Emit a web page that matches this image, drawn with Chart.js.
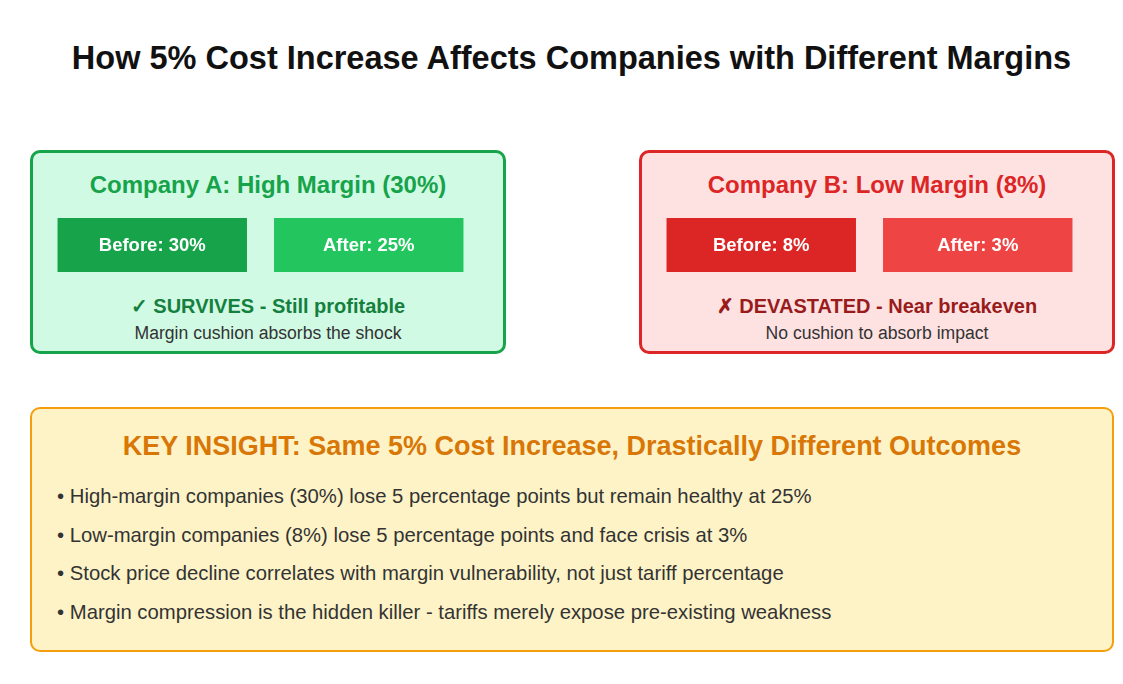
<!DOCTYPE html>
<html>
<head>
<meta charset="utf-8">
<title>Margin shock</title>
<script src="https://cdn.jsdelivr.net/npm/chart.js@4.4.1/dist/chart.umd.min.js"></script>
<style>
  html, body { margin: 0; padding: 0; background: #fff; }
  body { width: 1123px; height: 684px; position: relative; overflow: hidden;
         font-family: "Liberation Sans", Arial, Helvetica, sans-serif; color: #333; }
  .title { position: absolute; left: 0; width: 1143px; top: 38px; text-align: center;
           font-size: 32.5px; line-height: 40px; font-weight: bold; color: #111; }
  .panel { position: absolute; top: 150px; width: 470px; height: 198px;
           border: 3px solid; border-radius: 10px; }
  .panel h2 { position: absolute; left: 0; right: 0; top: 17px; margin: 0; text-align: center;
              font-size: 24px; line-height: 30px; font-weight: bold; }
  .panel .verdict { position: absolute; left: 0; right: 0; top: 140px; text-align: center;
                    font-size: 20px; line-height: 26px; font-weight: bold; }
  .panel .note { position: absolute; left: 0; right: 0; top: 169px; text-align: center;
                 font-size: 17.6px; line-height: 22px; color: #333; }
  .panel canvas { position: absolute; top: 65px; left: 11px; }
  .insight { position: absolute; left: 30px; top: 407px; width: 1080px; height: 241px;
             background: #fef3c7; border: 2px solid #f59e0b; border-radius: 10px; }
  .insight h2 { margin: 0; position: absolute; left: 0; right: 0; top: 20px; text-align: center;
                font-size: 27px; line-height: 34px; font-weight: bold; color: #d97706; }
  .insight ul { list-style: none; margin: 0; padding: 0; position: absolute; left: 25px; top: 68px; }
  .insight li { font-size: 20.3px; height: 38.5px; line-height: 38.5px; color: #333; white-space: nowrap; }
</style>
</head>
<body>
<div class="title" id="title"></div>
<div id="panels"></div>
<div class="insight">
  <h2 id="insightTitle"></h2>
  <ul id="bullets"></ul>
</div>
<script>
const CHART_TITLE = 'How 5% Cost Increase Affects Companies with Different Margins';

const companies   = ['Company A: High Margin (30%)', 'Company B: Low Margin (8%)'];
const stages      = ['Before', 'After'];
const marginBefore = [30, 8];
const marginAfter  = [25, 3];
const verdicts    = ['\u2713 SURVIVES - Still profitable', '\u2717 DEVASTATED - Near breakeven'];
const notes       = ['Margin cushion absorbs the shock', 'No cushion to absorb impact'];

const INSIGHT_TITLE = 'KEY INSIGHT: Same 5% Cost Increase, Drastically Different Outcomes';
const insights = [
    'High-margin companies (30%) lose 5 percentage points but remain healthy at 25%',
    'Low-margin companies (8%) lose 5 percentage points and face crisis at 3%',
    'Stock price decline correlates with margin vulnerability, not just tariff percentage',
    'Margin compression is the hidden killer - tariffs merely expose pre-existing weakness',
];

// each stage is a full-height tile, the value goes in the label
const TILE = [0, 1];

const THEMES = [
    { left: 30,  fill: '#d1fae5', border: '#16a34a', title: '#16a34a', verdict: '#15803d',
      tiles: ['#16a34a', '#22c55e'] },
    { left: 639, fill: '#fee2e2', border: '#dc2626', title: '#dc2626', verdict: '#991b1b',
      tiles: ['#dc2626', '#ef4444'] },
];

document.getElementById('title').textContent = CHART_TITLE;
document.getElementById('insightTitle').textContent = INSIGHT_TITLE;

const ul = document.getElementById('bullets');
insights.forEach(t => {
    const li = document.createElement('li');
    li.textContent = '\u2022 ' + t;
    ul.appendChild(li);
});

const tileLabels = {
    id: 'tileLabels',
    afterDatasetsDraw(chart) {
        const { ctx } = chart;
        const vals = chart.options.plugins.tileLabels.values;
        ctx.save();
        ctx.fillStyle = '#fff';
        ctx.font = 'bold 18.5px "Liberation Sans", Arial, sans-serif';
        ctx.textAlign = 'center';
        ctx.textBaseline = 'middle';
        chart.getDatasetMeta(0).data.forEach((bar, i) => {
            ctx.fillText(`${chart.data.labels[i]}: ${vals[i]}%`, bar.x, (bar.y + bar.base) / 2 + 1);
        });
        ctx.restore();
    }
};

const panels = document.getElementById('panels');
companies.forEach((name, c) => {
    const th = THEMES[c];
    const div = document.createElement('div');
    div.className = 'panel';
    div.style.left = th.left + 'px';
    div.style.background = th.fill;
    div.style.borderColor = th.border;
    div.innerHTML = `<h2 style="color:${th.title}">${name}</h2>
        <canvas width="433" height="54"></canvas>
        <div class="verdict" style="color:${th.verdict}">${verdicts[c]}</div>
        <div class="note">${notes[c]}</div>`;
    panels.appendChild(div);

    new Chart(div.querySelector('canvas').getContext('2d'), {
        type: 'bar',
        data: {
            labels: stages,
            datasets: [{
                data: [TILE, TILE],
                backgroundColor: th.tiles,
                borderWidth: 0,
                barPercentage: 0.875,
                categoryPercentage: 1,
            }]
        },
        plugins: [tileLabels],
        options: {
            responsive: false,
            animation: false,
            layout: { padding: 0 },
            plugins: {
                legend: { display: false },
                tooltip: { enabled: false },
                tileLabels: { values: [marginBefore[c], marginAfter[c]] },
            },
            scales: {
                x: { display: false },
                y: { display: false, min: 0, max: 1 },
            },
        },
    });
});
</script>
</body>
</html>
